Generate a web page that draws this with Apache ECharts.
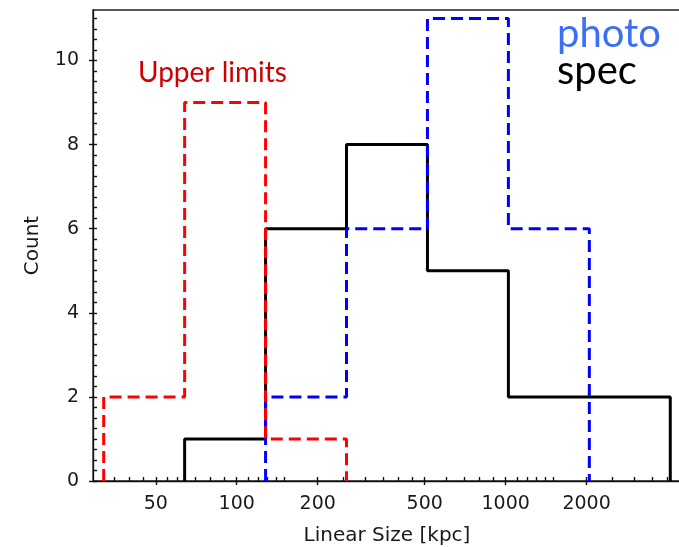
<!DOCTYPE html>
<html><head><meta charset="utf-8">
<script src="https://cdn.jsdelivr.net/npm/echarts@6/dist/echarts.min.js"></script>
<style>html,body{margin:0;padding:0;background:#fff}#c{width:679px;height:547px}</style>
</head><body><div id="c"></div>
<script>
// ---- data ----
const specEdges = [64, 128, 256, 512, 1024, 2048, 4096];
const specCounts = [1, 6, 8, 5, 2, 2];
const photoEdges = [128, 256, 512, 1024, 2048];
const photoCounts = [2, 6, 11, 6];
const upperEdges = [32, 64, 128, 256];
const upperCounts = [2, 9, 1];
const xMajorTicks = [50, 100, 200, 500, 1000, 2000];
const xMinorTicks = [35, 40, 45, 55, 60, 70, 80, 90, 110, 120, 130, 140, 150, 250, 300, 350, 400, 450, 600, 700, 800, 900, 1100, 1200, 1300, 1400, 1500, 2500, 3000, 3500, 4000];
const yMajorTicks = [0, 2, 4, 6, 8, 10];
const yMinorTicks = [];
for (let i = 0; i <= 44; i++) yMinorTicks.push(i * 0.25);

function stepPoints(edges, counts) {
  const pts = [[edges[0], 0]];
  counts.forEach((c, i) => { pts.push([edges[i], c]); pts.push([edges[i + 1], c]); });
  pts.push([edges[edges.length - 1], 0]);
  return pts;
}

const X_MIN = 29.2, X_MAX = 4490, Y_MIN = 0, Y_MAX = 11.2;
const axisCol = '#1a1a1a';
const fontFam = 'DejaVu Sans';
const tickStyle = {color: '#111', width: 1.4};

const chart = echarts.init(document.getElementById('c'), null, {renderer: 'canvas'});
chart.setOption({
  animation: false,
  backgroundColor: '#fff',
  grid: {left: 93, top: 10, width: 588, height: 471, show: true, borderColor: '#222', borderWidth: 1.3,
         backgroundColor: 'transparent', containLabel: false, outerBoundsMode: 'none'},
  xAxis: [
    {type: 'log', logBase: 10, min: X_MIN, max: X_MAX, position: 'bottom',
     axisLine: {show: true, lineStyle: {color: '#111', width: 1.3}},
     axisTick: {show: true, inside: false, length: 4, customValues: xMajorTicks, lineStyle: tickStyle},
     axisLabel: {show: true, customValues: xMajorTicks, formatter: v => String(Math.round(v)),
                 fontSize: 19, fontFamily: fontFam, color: axisCol, margin: 14},
     splitLine: {show: false}, minorTick: {show: false},
     name: 'Linear Size [kpc]', nameLocation: 'middle', nameGap: 45,
     nameTextStyle: {fontSize: 20, fontFamily: fontFam, color: axisCol}},
    {type: 'log', logBase: 10, min: X_MIN, max: X_MAX, position: 'bottom', offset: 0,
     axisLine: {show: false},
     axisTick: {show: true, inside: true, length: 4, customValues: xMajorTicks.concat(xMinorTicks), lineStyle: tickStyle},
     axisLabel: {show: false}, splitLine: {show: false}}
  ],
  yAxis: [
    {type: 'value', min: Y_MIN, max: Y_MAX, position: 'left',
     axisLine: {show: true, lineStyle: {color: '#111', width: 1.3}},
     axisTick: {show: true, inside: false, length: 4, customValues: yMajorTicks, lineStyle: tickStyle},
     axisLabel: {show: true, customValues: yMajorTicks, fontSize: 19, fontFamily: fontFam, color: axisCol, margin: 14},
     splitLine: {show: false},
     name: 'Count', nameLocation: 'middle', nameGap: 50, nameRotate: 90,
     nameTextStyle: {fontSize: 20, fontFamily: fontFam, color: axisCol}},
    {type: 'value', min: Y_MIN, max: Y_MAX, position: 'left', offset: 0,
     axisLine: {show: false},
     axisTick: {show: true, inside: true, length: 4, customValues: yMinorTicks, lineStyle: tickStyle},
     axisLabel: {show: false}, splitLine: {show: false}}
  ],
  series: [
    {name: 'spec', type: 'line', xAxisIndex: 0, yAxisIndex: 0, data: stepPoints(specEdges, specCounts),
     symbol: 'none', lineStyle: {color: '#000', width: 3}, z: 3},
    {name: 'photo', type: 'line', xAxisIndex: 0, yAxisIndex: 0, data: stepPoints(photoEdges, photoCounts),
     symbol: 'none', lineStyle: {color: '#0000ff', width: 3, type: [12, 6]}, z: 4},
    {name: 'Upper limits', type: 'line', xAxisIndex: 0, yAxisIndex: 0, data: stepPoints(upperEdges, upperCounts),
     symbol: 'none', lineStyle: {color: '#ff0000', width: 3, type: [12, 6]}, z: 5}
  ],
  graphic: [
    {type: 'text', x: 557, y: 34, z: 100, style: {text: 'photo', fill: '#3b6ff5', fontSize: 40, fontFamily: 'Lato', verticalAlign: 'middle'}},
    {type: 'text', x: 557, y: 71, z: 100, style: {text: 'spec', fill: '#000', fontSize: 40, fontFamily: 'Lato', verticalAlign: 'middle'}},
    {type: 'text', x: 138, y: 73, z: 100, style: {text: 'Upper limits', fill: '#d00000', fontSize: 28, fontFamily: 'Lato', verticalAlign: 'middle'}}
  ]
});
</script></body></html>
